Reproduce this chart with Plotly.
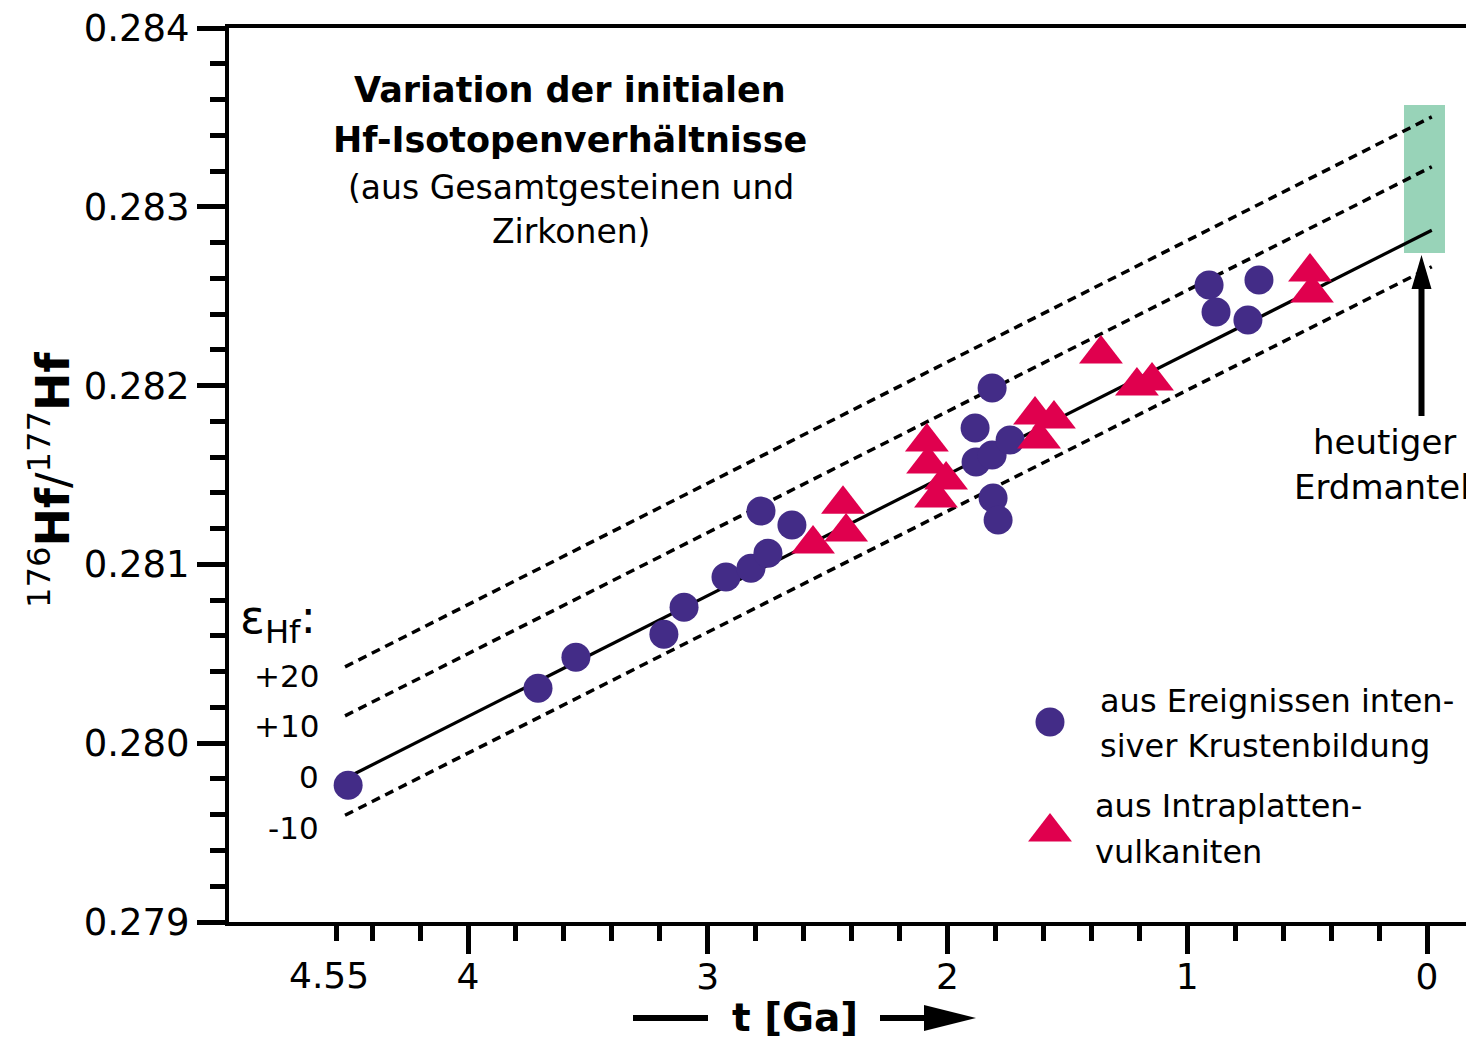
import plotly.graph_objects as go

# ---------------- data ----------------
circle_t = [4.50, 3.708, 3.550, 3.183, 3.099, 2.924, 2.820, 2.749, 2.778, 2.649,
            1.885, 1.814, 1.881, 1.814, 1.739, 1.810, 1.789,
            0.909, 0.880, 0.747, 0.701]
circle_hf = [0.279765, 0.280308, 0.280481, 0.280610, 0.280761, 0.280929, 0.280979,
             0.281063, 0.281298, 0.281220,
             0.281763, 0.281987, 0.281573, 0.281612, 0.281696, 0.281371, 0.281248,
             0.282563, 0.282412, 0.282367, 0.282591]

tri_t = [2.561, 2.436, 2.423, 2.086, 2.081, 2.006, 2.048,
         1.635, 1.556, 1.618, 1.360, 1.210, 1.147, 0.488, 0.480]
tri_hf = [0.281114, 0.281337, 0.281181, 0.281684, 0.281561, 0.281472, 0.281371,
          0.281836, 0.281813, 0.281701, 0.282177, 0.281998, 0.282026, 0.282636, 0.282518]

# epsilon-Hf reference lines: value at start (t=4.513) and at present (t=-0.02)
eps_labels = ["+20", "+10", "0", "-10"]
eps_line_t = [4.513, -0.02]
eps_plus20 = [0.280427, 0.283503]
eps_plus10 = [0.280153, 0.283224]
eps_minus10 = [0.279597, 0.282665]
chur_t = [4.50, -0.02]
chur_hf = [0.279811, 0.282869]

# present-day mantle box
mantle_t = [0.096, -0.075]
mantle_hf = [0.282742, 0.283570]
mantle_arrow_t = 0.023
mantle_arrow_tip = 0.282731
mantle_arrow_tail = 0.281830

x_major = [4, 3, 2, 1, 0]
x_major_text = ["4", "3", "2", "1", "0"]
x_minor = [4.55, 4.4, 4.2, 3.8, 3.6, 3.4, 3.2, 2.8, 2.6, 2.4, 2.2,
           1.8, 1.6, 1.4, 1.2, 0.8, 0.6, 0.4, 0.2]
y_major = [0.279, 0.280, 0.281, 0.282, 0.283, 0.284]
y_major_text = ["0.279", "0.280", "0.281", "0.282", "0.283", "0.284"]

# ---------------- styling ----------------
FONT = "DejaVu Sans"
PURPLE = "#432C87"
CRIMSON = "#E0004E"
GREEN = "#98D3B8"

BODY = 8                      # default page margin around the plot div
W, H = 1474 - BODY, 1042 - BODY
L, R, T, B = 229, 1474, 28, 922   # plot area in screen pixels


def pxx(x):
    return (x - L) / (R - L)


def pxy(y):
    return (B - y) / (B - T)


fig = go.Figure()

dash = "9px,6px"
for vals in (eps_plus20, eps_plus10, eps_minus10):
    fig.add_trace(go.Scatter(x=eps_line_t, y=vals, mode="lines",
                             line=dict(color="black", width=3.5, dash=dash),
                             showlegend=False, hoverinfo="skip"))
fig.add_trace(go.Scatter(x=chur_t, y=chur_hf, mode="lines",
                         line=dict(color="black", width=3.2),
                         showlegend=False, hoverinfo="skip"))

fig.add_trace(go.Scatter(x=circle_t, y=circle_hf, mode="markers",
                         marker=dict(symbol="circle", size=29, color=PURPLE,
                                     line=dict(width=0)),
                         name="aus Ereignissen intensiver Krustenbildung",
                         showlegend=False))
fig.add_trace(go.Scatter(x=tri_t, y=tri_hf, mode="markers",
                         marker=dict(symbol="triangle-up", size=38, color=CRIMSON,
                                     line=dict(width=0)),
                         name="aus Intraplattenvulkaniten",
                         showlegend=False))

# legend keys on an overlay axis in plot fractions
fig.add_trace(go.Scatter(x=[pxx(1050)], y=[pxy(722)], xaxis="x2", yaxis="y2",
                         mode="markers", marker=dict(symbol="circle", size=29, color=PURPLE),
                         showlegend=False, hoverinfo="skip"))
fig.add_trace(go.Scatter(x=[pxx(1050)], y=[pxy(832)], xaxis="x2", yaxis="y2",
                         mode="markers", marker=dict(symbol="triangle-up", size=38, color=CRIMSON),
                         showlegend=False, hoverinfo="skip"))

shapes = []
shapes.append(dict(type="rect", xref="x", yref="y", x0=mantle_t[0], x1=mantle_t[1],
                   y0=mantle_hf[0], y1=mantle_hf[1], fillcolor=GREEN,
                   line=dict(width=0), layer="below"))
# mantle arrow
shapes.append(dict(type="line", xref="x", yref="y", x0=mantle_arrow_t, x1=mantle_arrow_t,
                   y0=mantle_arrow_tail, y1=mantle_arrow_tip - 28 / 178700,
                   line=dict(color="black", width=6)))
shapes.append(dict(type="path", xref="x", yref="y", xsizemode="pixel", ysizemode="pixel",
                   xanchor=mantle_arrow_t, yanchor=mantle_arrow_tip,
                   path="M-10,-34 L10,-34 L0,0 Z", fillcolor="black", line=dict(width=0)))
# x-title bar and arrow
shapes.append(dict(type="line", xref="paper", yref="paper", x0=pxx(633), x1=pxx(708),
                   y0=pxy(1018), y1=pxy(1018), line=dict(color="black", width=6)))
shapes.append(dict(type="line", xref="paper", yref="paper", x0=pxx(880), x1=pxx(930),
                   y0=pxy(1018), y1=pxy(1018), line=dict(color="black", width=6)))
shapes.append(dict(type="path", xref="paper", yref="paper", xsizemode="pixel", ysizemode="pixel",
                   xanchor=pxx(976), yanchor=pxy(1018),
                   path="M0,0 L-52,13 L-52,-13 Z", fillcolor="black", line=dict(width=0)))

ann = []


def text(x, y, s, size, anchor="center", angle=0, color="black"):
    ann.append(dict(xref="paper", yref="paper", x=pxx(x), y=pxy(y), text=s,
                    showarrow=False, xanchor=anchor, yanchor="middle", textangle=angle,
                    font=dict(family=FONT, size=size, color=color)))


text(570, 90, "<b>Variation der initialen</b>", 35)
text(570, 140, "<b>Hf-Isotopenverhältnisse</b>", 35)
text(571, 187, "(aus Gesamtgesteinen und", 33)
text(571, 231, "Zirkonen)", 33)

text(1384, 442, "heutiger", 34)
text(1382, 487, "Erdmantel", 34)

text(1098, 701, "aus Ereignissen inten-", 32, anchor="left")
text(1098, 746, "siver Krustenbildung", 32, anchor="left")
text(1093, 806, "aus Intraplatten-", 32, anchor="left")
text(1093, 852, "vulkaniten", 32, anchor="left")

text(238, 620, "ε<sub>Hf</sub>:", 46, anchor="left")
for lab, yy in zip(eps_labels, [676, 726, 777, 828]):
    text(321, yy, lab, 31, anchor="right")

text(329, 975, "4.55", 36)
text(795, 1017, "<b>t [Ga]</b>", 39)
text(50, 480, "<sup>176</sup><b>Hf</b>/<sup>177</sup><b>Hf</b>", 46, angle=-90)

fig.update_layout(
    width=W, height=H,
    margin=dict(l=L - BODY, r=0, t=T - BODY, b=H - (B - BODY), pad=0),
    paper_bgcolor="white", plot_bgcolor="white",
    shapes=shapes, annotations=ann,
    font=dict(family=FONT, size=36, color="black"),
    xaxis=dict(range=[4.997, -0.196], showgrid=False, zeroline=False,
               showline=True, linewidth=4, linecolor="black", mirror=True,
               ticks="outside", ticklen=28, tickwidth=4.5, tickcolor="black",
               tickmode="array", tickvals=x_major, ticktext=x_major_text,
               ticklabelstandoff=-8, ticklabeloverflow="allow",
               tickfont=dict(family=FONT, size=36, color="black"),
               minor=dict(tickmode="array", tickvals=x_minor, ticks="outside",
                          ticklen=15, tickwidth=4.5, tickcolor="black", showgrid=False)),
    yaxis=dict(range=[0.279, 0.284], showgrid=False, zeroline=False,
               showline=True, linewidth=4, linecolor="black",
               ticks="outside", ticklen=28, tickwidth=4.5, tickcolor="black",
               tickmode="array", tickvals=y_major, ticktext=y_major_text,
               ticklabeloverflow="allow",
               tickfont=dict(family=FONT, size=37, color="black"),
               minor=dict(tickmode="linear", tick0=0.279, dtick=0.0002, ticks="outside",
                          ticklen=15, tickwidth=4.5, tickcolor="black", showgrid=False)),
    xaxis2=dict(overlaying="x", range=[0, 1], visible=False),
    yaxis2=dict(overlaying="y", range=[0, 1], visible=False),
)

fig.write_html("out.html")
